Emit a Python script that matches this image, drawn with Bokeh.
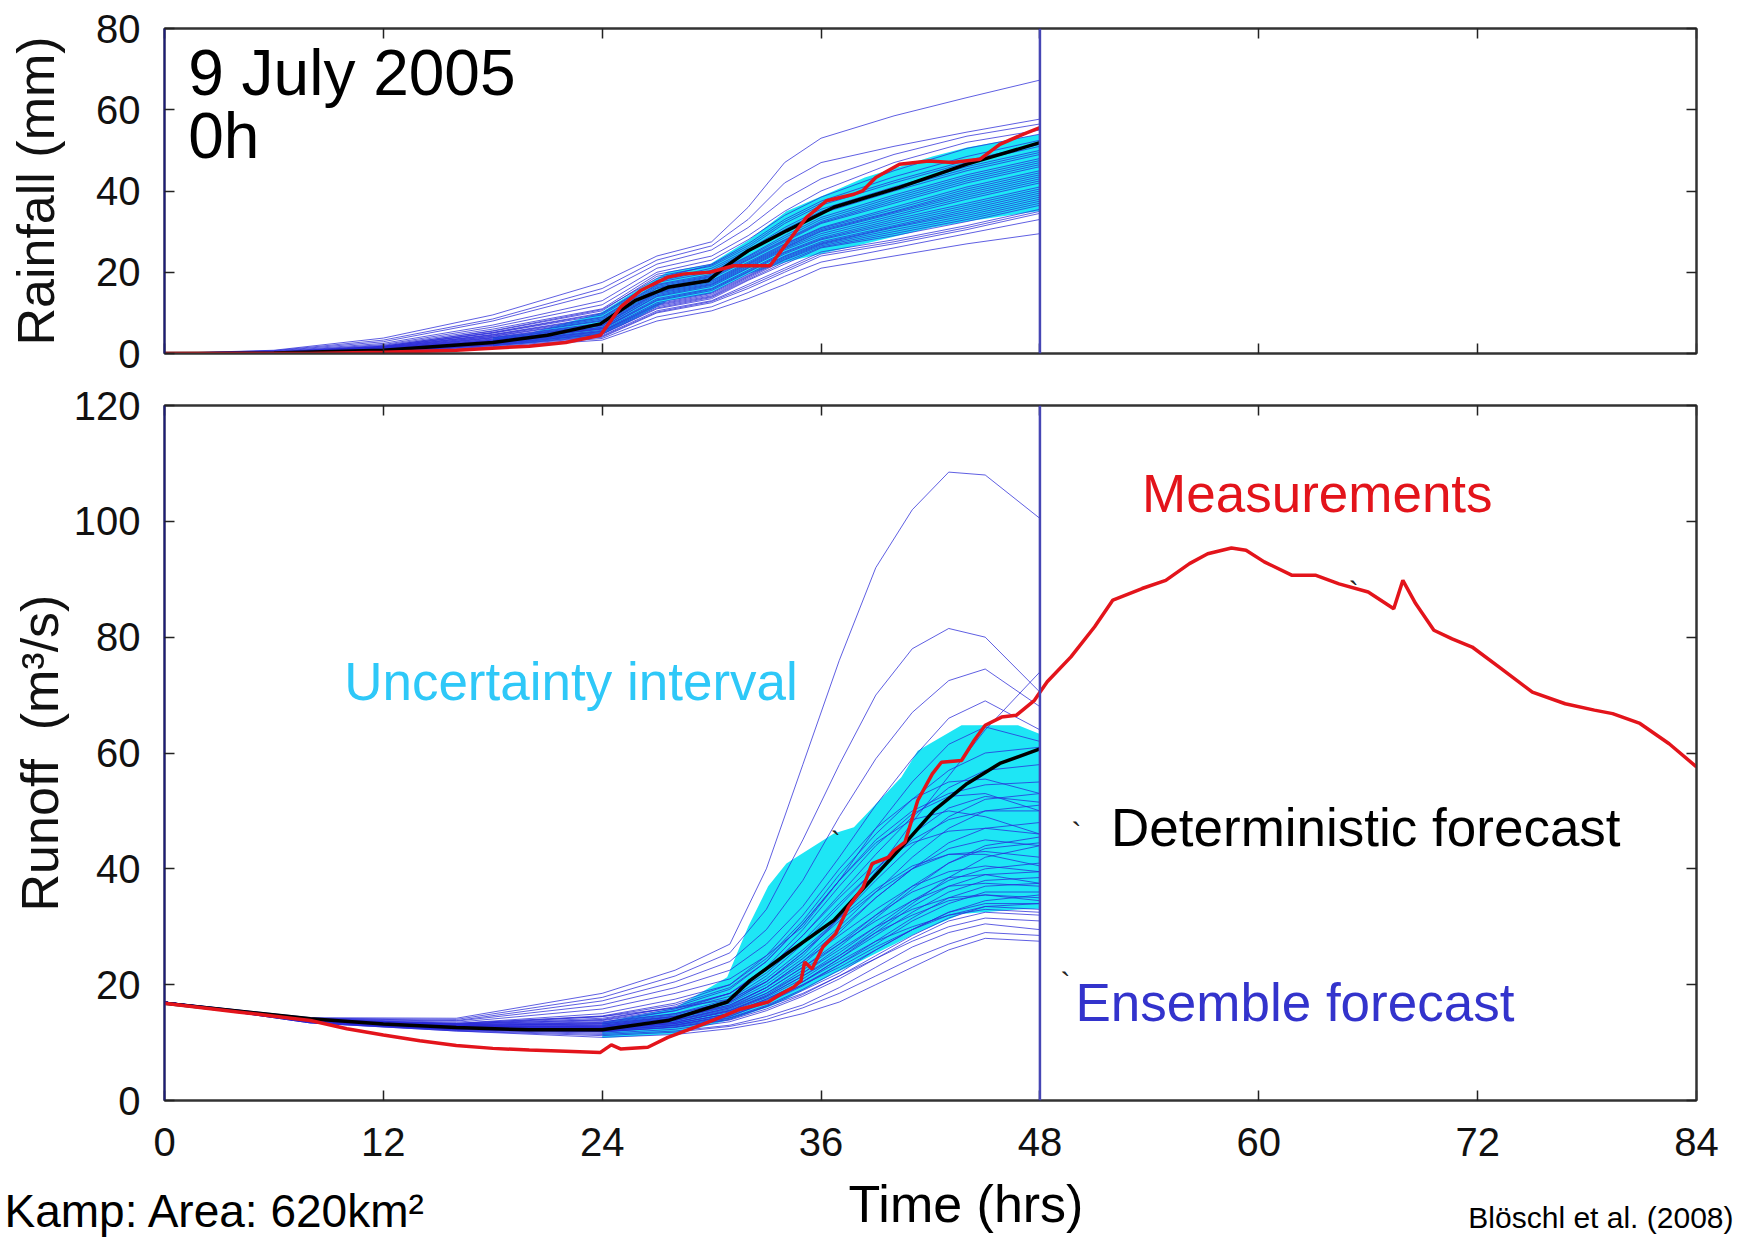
from bokeh.plotting import figure
from bokeh.models import LinearAxis, FixedTicker, Span, Label, Range1d
from bokeh.layouts import column
from bokeh.embed import file_html
from bokeh.resources import INLINE

FONT = "Liberation Sans"

# ---------------- data ----------------
X_TICKS = [0, 12, 24, 36, 48, 60, 72, 84]
RAIN_TICKS = [0, 20, 40, 60, 80]
RUNOFF_TICKS = [0, 20, 40, 60, 80, 100, 120]
FORECAST_TIME = 48

# Rainfall (cumulative, mm)
rain_obs_t = [0, 8, 12, 16, 20, 22, 23.9, 25.0, 26.1, 27.6, 28.5, 29.9, 31.2, 33.2, 34.1, 35.2,
              36.3, 37.8, 38.3, 39.0, 40.3, 41.9, 43.2, 44.7, 45.8, 47.1, 48]
rain_obs = [0, 0, 0.3, 0.8, 1.8, 2.7, 4.5, 11.4, 15.5, 18.8, 19.6, 20.0, 21.6, 21.6, 27.0, 33.5,
            37.6, 39.2, 40.1, 43.3, 46.6, 47.4, 47.0, 47.8, 51.5, 54.0, 55.6]

rain_det_t = [0, 6, 12, 18, 21, 23.9, 25.8, 27.6, 29.8, 30.7, 32.0, 34.1, 36.7, 40.3, 44.0, 48]
rain_det = [0, 0.1, 0.8, 2.7, 4.5, 7.3, 13.0, 16.3, 17.9, 21.2, 25.3, 30.2, 36.0, 40.9, 46.6, 51.9]

rain_band_t = [18, 20, 23.9, 25.8, 27.6, 29.9, 32.0, 34.1, 36.7, 38.4, 42.1, 44.0, 48]
rain_band_lo = [1.8, 2.5, 4.5, 8.5, 13.0, 14.7, 19.5, 22.5, 25.3, 27.0, 31.0, 32.5, 35.1]
rain_band_hi = [4.0, 5.0, 10.0, 15.3, 20.1, 22.0, 27.8, 35.0, 40.0, 43.3, 48.5, 50.7, 54.0]

rain_ens_t = [0, 6, 12, 18, 24, 27, 30, 32, 34, 36, 40, 44, 48]
rain_members = [
    [0, 0.8, 3.8, 9.5, 17.5, 24, 27.5, 36, 47, 53, 58.5, 63, 67.3],
    [0, 0.7, 3.3, 8.5, 16, 23, 26.5, 33, 42, 47, 51, 54.5, 57.7],
    [0, 0.6, 2.9, 8, 15, 22, 25.5, 31, 38, 43, 49, 53.5, 56.5],
    [0, 0.5, 2.5, 7, 13, 21, 24, 29, 35, 40, 47, 52, 55],
    [0, 0.4, 2.2, 6.5, 12, 20, 23, 28, 34, 38.5, 45, 50.5, 54],
    [0, 0.35, 2.0, 6, 11, 19.5, 22, 27, 33, 37.5, 43.5, 48.5, 52.5],
    [0, 0.3, 1.8, 5.5, 10.5, 19, 21.5, 26, 32, 36.5, 42, 47, 51],
    [0, 0.25, 1.7, 5.2, 10, 18, 21, 25.5, 31, 35.5, 41, 46, 50],
    [0, 0.25, 1.6, 5, 9.5, 17.5, 20, 25, 30, 34.5, 40, 45, 49],
    [0, 0.2, 1.5, 4.7, 9, 17, 19.5, 24, 29, 33.5, 39, 44, 48],
    [0, 0.2, 1.4, 4.5, 8.5, 16.5, 19, 23.5, 28, 32.5, 38, 43, 47],
    [0, 0.2, 1.3, 4.2, 8, 16, 18.5, 23, 27.5, 32, 37, 42, 46],
    [0, 0.2, 1.2, 4, 7.5, 15.5, 18, 22.5, 27, 31, 36, 41, 45],
    [0, 0.15, 1.1, 3.8, 7, 15, 17.5, 22, 26.5, 30.5, 35, 40, 44],
    [0, 0.15, 1.0, 3.5, 6.8, 14.5, 17, 21.5, 26, 30, 34.5, 39, 43],
    [0, 0.15, 0.9, 3.3, 6.5, 14, 16.5, 21, 25.5, 29, 33.5, 38, 42],
    [0, 0.1, 0.9, 3.1, 6.2, 13.5, 16, 20.5, 25, 28.5, 33, 37, 41],
    [0, 0.1, 0.8, 3, 6, 13, 15.5, 20, 24.5, 28, 32, 36, 40],
    [0, 0.1, 0.8, 2.8, 5.7, 12.5, 15, 19.5, 24, 27.5, 31.5, 35.5, 39.5],
    [0, 0.1, 0.7, 2.6, 5.4, 12, 14.5, 19, 23.5, 27, 31, 34.5, 38.5],
    [0, 0.1, 0.7, 2.4, 5, 11.5, 14, 18.5, 23, 26.5, 30, 33.5, 37.5],
    [0, 0.05, 0.6, 2.2, 4.7, 11, 13.5, 18, 22, 26, 29, 32.5, 36.5],
    [0, 0.05, 0.6, 2.1, 4.4, 10.5, 13, 17, 21, 25, 28, 31.5, 35.5],
    [0, 0.05, 0.5, 1.9, 4, 10, 12.5, 16, 20, 24, 27, 30.5, 34.5],
    [0, 0, 0.5, 1.7, 3.7, 9, 11.5, 15, 19, 22.5, 26, 29.5, 33],
    [0, 0, 0.4, 1.5, 3.3, 8, 10.5, 13.5, 17, 21, 24, 27, 29.5],
    [0, 0.3, 1.8, 5.6, 10.8, 18.5, 21.8, 26.5, 32.5, 37, 42.5, 47.5, 51.5],
    [0, 0.25, 1.6, 5.1, 9.8, 17.8, 20.5, 25.2, 30.5, 35, 40.5, 45.5, 49.5],
    [0, 0.2, 1.45, 4.6, 8.8, 16.8, 19.2, 23.8, 28.5, 33, 38.5, 43.5, 47.5],
    [0, 0.2, 1.3, 4.3, 8.2, 16.2, 18.8, 23.2, 27.8, 32.2, 37.5, 42.5, 46.5],
    [0, 0.15, 1.15, 3.9, 7.3, 15.2, 17.8, 22.2, 26.8, 30.8, 35.5, 40.5, 44.5],
    [0, 0.15, 1.05, 3.6, 6.9, 14.8, 17.2, 21.8, 26.2, 30.2, 34.8, 39.5, 43.5],
    [0, 0.1, 0.95, 3.3, 6.4, 14.2, 16.8, 21.2, 25.8, 29.5, 34, 38.5, 42.5],
    [0, 0.1, 0.85, 3.1, 6.1, 13.2, 15.8, 20.2, 24.8, 28.2, 32.5, 36.5, 40.5],
    [0, 0.1, 0.75, 2.7, 5.5, 12.2, 14.8, 19.2, 23.8, 27.2, 31.2, 35, 39],
    [0, 0.1, 0.7, 2.5, 5.2, 11.8, 14.2, 18.8, 23.2, 26.8, 30.5, 34, 38],
    [0, 0.05, 0.6, 2.3, 4.8, 11.2, 13.8, 18.2, 22.5, 26.2, 29.5, 33, 37],
    [0, 0.05, 0.55, 2.0, 4.2, 10.2, 12.8, 16.5, 20.5, 24.5, 27.5, 31, 35],
]

# Runoff (m3/s)
runoff_obs_t = [0, 4, 8, 10, 12, 14, 16, 18, 20, 22,
                23.9, 24.5, 25, 26.5, 27.6, 29.4, 31.6, 33.1, 33.8, 34.5,
                34.9, 35.1, 35.5, 36.1, 36.8, 37.5, 38.3, 38.8, 39.7, 40.0,
                40.6, 41.3, 42.1, 42.6, 43.7, 44.4, 45.0, 45.9, 46.7, 47.7,
                48.0, 48.4, 49.7, 51.0, 52.0, 53.6, 54.9, 56.2, 57.2, 58.5,
                59.3, 60.3, 61.8, 63.1, 64.4, 66.0, 67.4, 67.9, 68.6, 69.6,
                70.6, 71.7, 73.2, 75.0, 76.8, 78.4, 79.4, 80.9, 82.5, 84.0]
runoff_obs = [16.8, 15.3, 13.8, 12.4, 11.3, 10.3, 9.5, 9.0, 8.7, 8.5,
              8.3, 9.6, 8.9, 9.2, 10.9, 13.0, 15.8, 17.0, 18.4, 19.6,
              20.7, 23.9, 22.7, 26.5, 28.8, 33.4, 36.8, 40.9, 42.0, 43.2,
              44.6, 51.8, 56.4, 58.4, 58.7, 62.2, 64.8, 66.2, 66.5, 69.1,
              70.5, 72.3, 76.6, 81.8, 86.4, 88.4, 89.8, 92.7, 94.4, 95.4,
              95.0, 93.0, 90.7, 90.7, 89.2, 87.8, 84.9, 89.8, 85.8, 81.2,
              79.7, 78.3, 74.8, 70.5, 68.5, 67.4, 66.8, 65.1, 61.6, 57.6]

runoff_det_t = [0, 8, 12, 16, 20, 24, 27.6, 30.85, 32.1, 34.1, 36.7, 38.9, 40.4, 42.2, 44.0, 45.8, 48]
runoff_det = [16.8, 14.1, 13.2, 12.6, 12.2, 12.2, 13.8, 17.0, 20.7, 25.3, 31.1, 38.6, 43.7, 50.1, 54.7, 58.2, 60.7]

runoff_band_t = [24, 28, 30.85, 32, 33.1, 34.1, 36.7, 37.8, 40.4, 41.3, 43.7, 46.8, 48]
runoff_band_lo = [10.8, 11.5, 13.8, 15.0, 16.1, 17.5, 21.9, 23.5, 27.6, 29.0, 32.2, 33.0, 33.1]
runoff_band_hi = [13.5, 16.0, 21.3, 30.0, 37.0, 40.9, 46.1, 47.2, 55.8, 60.4, 64.8, 64.8, 63.3]

runoff_ens_t = [0, 8, 16, 24, 28, 31, 33, 35, 37, 39, 41, 43, 45, 48]
runoff_members = [
    [17, 14.3, 14.2, 18.5, 22.5, 27, 40, 58, 76, 92, 102, 108.5, 108, 100.5],
    [17, 14.2, 14.0, 17.8, 21.5, 25.5, 33, 45, 58, 70, 78, 81.5, 80, 70.5],
    [17, 14.2, 13.8, 17.2, 20.5, 24, 29.5, 38, 49, 59, 67, 72.5, 74.5, 68],
    [17, 14.1, 13.7, 16.5, 19.5, 22.5, 27, 33.5, 42, 51, 59, 66, 69, 64],
    [17, 14.1, 13.5, 15.8, 18.5, 21, 25, 30, 38, 47, 55, 61.5, 64.5, 62],
    [17, 14.0, 13.3, 14.5, 16, 17.5, 20.5, 25, 31.5, 39.5, 48, 56, 64, 74],
    [17, 14.0, 13.3, 15, 17.5, 20, 24.5, 31, 39, 46, 52, 57, 60, 61],
    [17, 13.9, 13.2, 14.2, 16, 18.5, 22.5, 28.5, 35.5, 42.5, 49, 54, 57, 58],
    [17, 13.9, 13.1, 14.5, 16.5, 19.5, 24, 30.5, 38, 45, 50, 53, 54.5, 55],
    [17, 13.9, 13.0, 13.6, 15, 17, 20.5, 25.5, 31.5, 38, 44, 49, 52, 53],
    [17, 13.8, 13.0, 13.8, 15.5, 18, 22, 27.5, 34, 40, 45, 48.5, 50, 50],
    [17, 13.8, 12.9, 13.2, 14.5, 16.5, 19.5, 23.5, 29, 35, 40, 44.5, 47, 48],
    [17, 13.8, 12.8, 13.5, 15.5, 18.5, 22.5, 28.5, 35, 41, 44.5, 46.5, 47, 46],
    [17, 13.7, 12.7, 12.8, 14, 16, 18.5, 22.5, 27, 32, 37, 41, 43.5, 44.5],
    [17, 13.7, 12.7, 13.0, 14.5, 17, 20.5, 25.5, 31, 36, 40, 42.5, 43, 42],
    [17, 13.7, 12.6, 12.5, 13.5, 15.5, 18, 21.5, 25.5, 30, 34.5, 38, 40, 41],
    [17, 13.7, 12.6, 12.8, 14.2, 16.5, 19.5, 24, 28.5, 33, 37, 39.5, 40.5, 39.5],
    [17, 13.6, 12.5, 12.3, 13.3, 15, 17.5, 20.5, 24.5, 28.5, 32.5, 36, 38, 38.5],
    [17, 13.6, 12.5, 12.5, 13.8, 16, 19, 23, 27, 31, 34.5, 37, 37.5, 37],
    [17, 13.6, 12.4, 12.1, 13, 14.5, 17, 20, 23.5, 27, 31, 34, 36, 36],
    [17, 13.6, 12.4, 12.3, 13.5, 15.5, 18, 21.5, 25, 29, 32, 34.5, 35.5, 35],
    [17, 13.5, 12.3, 11.9, 12.7, 14, 16.2, 19, 22, 26, 29.5, 32.5, 34, 34],
    [17, 13.5, 12.3, 12.0, 13, 14.8, 17, 20, 23, 26.5, 29.5, 32, 33.5, 33],
    [17, 13.5, 12.2, 11.6, 12.3, 13.6, 15.5, 18, 21, 24.5, 28, 31, 32.5, 32],
    [17, 13.5, 12.2, 11.8, 12.7, 14.2, 16.2, 18.5, 21.5, 24.5, 27.5, 30, 31.5, 31],
    [17, 13.4, 12.1, 11.4, 12, 13, 14.5, 16.5, 19.5, 23, 26.5, 29, 30.5, 29.5],
    [17, 13.4, 12.0, 11.2, 11.8, 12.8, 14, 16, 18.5, 21.5, 24.5, 27, 29, 28.5],
    [17, 13.4, 12.0, 10.9, 11.4, 12.4, 13.5, 15, 17, 20, 23, 26, 28, 27.5],
    [17, 14.0, 13.2, 13.9, 15.8, 18.5, 23, 29.5, 37, 44, 49.5, 52.5, 53, 50],
    [17, 13.9, 13.1, 13.4, 15, 17.5, 21.5, 27, 33.5, 40, 46, 50.5, 52.5, 51.5],
    [17, 13.9, 13.0, 13.2, 14.6, 16.8, 20, 24.5, 30, 36, 42, 47, 50, 51],
    [17, 13.8, 12.9, 13.0, 14.3, 16.3, 19.5, 24, 29.5, 35, 40, 43.5, 45, 44],
    [17, 13.8, 12.9, 13.3, 14.8, 17.2, 21, 26, 31.5, 36.5, 40.5, 42.5, 42.5, 40.5],
    [17, 13.7, 12.8, 12.7, 13.8, 15.6, 18.2, 22, 26.5, 31.5, 36.5, 41, 44, 45.5],
    [17, 13.7, 12.7, 12.6, 13.6, 15.3, 17.8, 21, 25, 29.5, 34, 38.5, 42, 44],
    [17, 13.7, 12.7, 12.9, 14.2, 16.2, 19, 23, 27.5, 32, 36, 38.5, 39, 37.5],
    [17, 13.6, 12.6, 12.4, 13.3, 15, 17.3, 20.5, 24.5, 29, 33.5, 37, 39, 39.5],
    [17, 13.6, 12.5, 12.2, 13.1, 14.6, 16.8, 19.8, 23.5, 27.5, 31.5, 35, 37, 37.5],
    [17, 13.6, 12.5, 12.6, 13.9, 15.8, 18.5, 22, 26, 30, 33, 35, 35.5, 34.5],
    [17, 13.5, 12.4, 12.0, 12.9, 14.3, 16.4, 19.2, 22.5, 26, 29.5, 32.5, 34.5, 35.5],
    [17, 13.5, 12.3, 11.9, 12.6, 13.9, 15.8, 18.3, 21.5, 25, 28.5, 31.5, 33.5, 34],
    [17, 13.5, 12.3, 12.2, 13.3, 15, 17.5, 20.5, 24, 27.5, 30, 32, 33, 32.5],
    [17, 13.9, 13.1, 14.0, 16.2, 19.2, 24, 30.5, 38, 44.5, 48.5, 50, 49, 46],
    [17, 14.0, 13.3, 14.6, 16.8, 20, 25, 32, 40, 47, 52, 55, 55.5, 53],
]

# ---------------- styling ----------------
W = 1738
RED = "#E3141B"
CYAN = "#1EE6F5"
ENS = "#2A2AD8"
VLINE = "#4646B4"
FRAME = "#333333"
LEFT_SPINE = "#1C1C78"


def style_axis(ax, labels=True, size="40px"):
    ax.major_tick_in = 10
    ax.major_tick_out = 0
    ax.minor_tick_line_color = None
    ax.major_tick_line_color = "#222222"
    ax.major_tick_line_width = 1.5
    ax.axis_line_color = FRAME
    ax.axis_line_width = 2
    if labels:
        ax.major_label_text_font = FONT
        ax.major_label_text_font_size = size
        ax.major_label_text_color = "#111111"
    else:
        ax.major_label_text_color = None


def make_fig(height, y_max, yticks, border_top, border_bottom):
    p = figure(width=W, height=height, x_range=Range1d(0, 84), y_range=Range1d(0, y_max),
               output_backend="svg", toolbar_location=None,
               x_axis_type=None, y_axis_type=None,
               min_border_left=164, min_border_right=42,
               min_border_top=border_top, min_border_bottom=border_bottom)
    p.grid.visible = False
    p.outline_line_color = FRAME
    p.outline_line_width = 2
    p.background_fill_color = "white"
    p.border_fill_color = "white"
    for side, tick in (("above", X_TICKS), ("right", yticks)):
        ax = LinearAxis(ticker=FixedTicker(ticks=tick))
        style_axis(ax, labels=False)
        p.add_layout(ax, side)
    return p


def left_axis(p, ticks, title, standoff):
    ax = LinearAxis(ticker=FixedTicker(ticks=ticks), axis_label=title)
    style_axis(ax)
    ax.axis_line_color = LEFT_SPINE
    ax.major_label_standoff = 24
    ax.axis_label_text_font = FONT
    ax.axis_label_text_font_size = "52px"
    ax.axis_label_text_font_style = "normal"
    ax.axis_label_text_color = "#111111"
    ax.axis_label_standoff = standoff
    p.add_layout(ax, "left")


def text(p, txt, xv, yv, size, color="black", align="left"):
    p.add_layout(Label(x=xv, y=yv, text=txt, text_font=FONT, text_font_size=size,
                       text_color=color, text_baseline="alphabetic", text_align=align))


# ---------------- top panel: rainfall ----------------
top = make_fig(380, 80, RAIN_TICKS, 28, 27)
bx = LinearAxis(ticker=FixedTicker(ticks=X_TICKS))
style_axis(bx, labels=False)
top.add_layout(bx, "below")
left_axis(top, RAIN_TICKS, "Rainfall (mm)", 28)

top.varea(x=rain_band_t, y1=rain_band_lo, y2=rain_band_hi, fill_color=CYAN)
top.multi_line(xs=[rain_ens_t] * len(rain_members), ys=rain_members,
               line_color=ENS, line_alpha=0.75, line_width=1)
top.line(rain_det_t, rain_det, line_color="black", line_width=3.5)
top.line(rain_obs_t, rain_obs, line_color=RED, line_width=3.5)
top.add_layout(Span(location=FORECAST_TIME, dimension="height", line_color=VLINE, line_width=2.5))

text(top, "9 July 2005", 1.3, 69.0, "64px")
text(top, "0h", 1.3, 53.5, "64px")

# ---------------- bottom panel: runoff ----------------
bot = make_fig(796, 120, RUNOFF_TICKS, 25, 76)
bx2 = LinearAxis(ticker=FixedTicker(ticks=X_TICKS))
style_axis(bx2)
bx2.major_label_standoff = 27
bot.add_layout(bx2, "below")
left_axis(bot, RUNOFF_TICKS, "Runoff\u00a0\u00a0(m³/s)", 2)

bot.varea(x=runoff_band_t, y1=runoff_band_lo, y2=runoff_band_hi, fill_color=CYAN)
bot.multi_line(xs=[runoff_ens_t] * len(runoff_members), ys=runoff_members,
               line_color=ENS, line_alpha=0.75, line_width=1)
bot.line(runoff_det_t, runoff_det, line_color="black", line_width=3.5)
bot.line(runoff_obs_t, runoff_obs, line_color=RED, line_width=3.5)
bot.add_layout(Span(location=FORECAST_TIME, dimension="height", line_color=VLINE, line_width=2.5))

text(bot, "Measurements", 53.6, 104.8, "53px", RED)
text(bot, "Uncertainty interval", 9.85, 72.4, "53px", "#2EC8F8")
text(bot, "Deterministic forecast", 51.9, 47.2, "53px")
text(bot, "Ensemble forecast", 49.95, 17.0, "53px", "#3333CC")

# small pointer remnants seen on the slide
for xv, yv in ((36.8, 44.8), (50.0, 46.3), (49.4, 20.3), (65.2, 87.8)):
    text(bot, "`", xv, yv, "30px", "#222222", "center")

# ---------------- footer strip: axis title and slide notes ----------------
foot = figure(width=W, height=62, x_range=Range1d(0, W), y_range=Range1d(0, 62),
              output_backend="svg", toolbar_location=None,
              x_axis_type=None, y_axis_type=None, min_border=0)
foot.frame_align = False
foot.grid.visible = False
foot.outline_line_color = None
foot.border_fill_color = "white"
foot.background_fill_color = "white"
text(foot, "Time (hrs)", 848, 35, "52px")
text(foot, "Kamp: Area: 620km²", 4, 28, "46px")
text(foot, "Blöschl et al. (2008)", 1733, 21, "30px", align="right")

layout = column(top, bot, foot, spacing=0)
open("out.html", "w").write(file_html(layout, INLINE))
